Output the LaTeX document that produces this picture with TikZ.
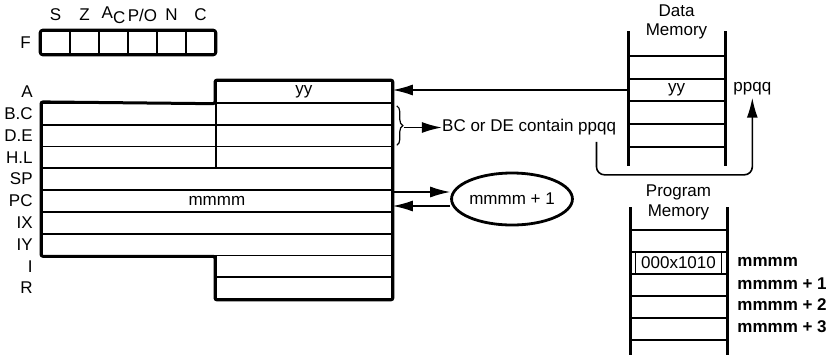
\documentclass[tikz,border=0pt]{standalone}
\usepackage{fontspec}
\setmainfont{Liberation Sans}
\usetikzlibrary{shapes.geometric, arrows.meta, positioning, decorations.pathreplacing}

\begin{document}
\begin{tikzpicture}[x=0.5pt, y=-0.5pt, >={Latex[length=10pt,width=5.5pt]},
    font=\fontsize{8.5}{10}\selectfont]
        % Define styles
        \tikzset{
            reg/.style={draw, line width=0.9pt, rectangle, minimum height=10.9pt, inner sep=0pt, anchor=west},
            half/.style={reg, minimum width=88pt},
            lefthalf/.style={reg, minimum width=87pt},
            full/.style={reg, minimum width=175pt},
            rname/.style={anchor=east, inner sep=0pt},
            cell/.style={draw, line width=0.9pt, minimum width=14.5pt, minimum height=11.5pt, inner sep=0pt},
            rail/.style={line width=1.5pt},
            slot/.style={line width=0.9pt},
            addr/.style={anchor=west, inner sep=0pt, font=\fontsize{8.5}{10}\selectfont\bfseries},
            wire/.style={line width=0.7pt}
        }
        \useasboundingbox (0,0) rectangle (834,359);

        % Flag register
        \foreach \n [count=\k] in {S, Z, {A\raisebox{-2.5pt}{C}}, P/O, N, C} {
            \node [cell] (f\k) at (26.5+29*\k, 42.5) {};
            \node (fn\k) at (26.5+29*\k, 15) {\n};
        }
        \draw [line width=1.5pt, rounded corners=1.5pt] (f1.north west) rectangle (f6.south east);
        \node [left=4.5pt of f1, inner sep=0pt] (fl) {F};

        % Register file
        \node [half] (a) at (215,91.9) {yy};
        \node [lefthalf] (b) at (41,113.7) {};
        \node [half] (c) at (215,113.7) {};
        \node [lefthalf] (d) at (41,135.5) {};
        \node [half] (e) at (215,135.5) {};
        \node [lefthalf] (h) at (41,157.3) {};
        \node [half] (l) at (215,157.3) {};
        \node [full] (sp) at (41,179.1) {};
        \node [full] (pc) at (41,200.9) {mmmm};
        \node [full] (ix) at (41,222.7) {};
        \node [full] (iy) at (41,244.5) {};
        \node [half] (i) at (215,266.3) {};
        \node [half] (r) at (215,288.1) {};
        \draw [line width=1.5pt, rounded corners=1pt] (b.north west) -- (a.south west) -- (a.north west)
            -- (a.north east) -- (r.south east) -- (r.south west) -- (iy.south -| i.west)
            -- (iy.south west) -- cycle;

        \node [rname] (la) at ([xshift=-4pt]b.west |- a) {A};
        \node [rname, left=4pt of b] (lbc) {B.C};
        \node [rname, left=4pt of d] (lde) {D.E};
        \node [rname, left=4pt of h] (lhl) {H.L};
        \node [rname, left=4pt of sp] (lsp) {SP};
        \node [rname, left=4pt of pc] (lpc) {PC};
        \node [rname, left=4pt of ix] (lix) {IX};
        \node [rname, left=4pt of iy] (liy) {IY};
        \node [rname] (li) at ([xshift=-4pt]b.west |- i) {I};
        \node [rname] (lr) at ([xshift=-4pt]b.west |- r) {R};

        % Brace and note
        \draw [decorate, decoration={brace, amplitude=3pt}, line width=0.6pt]
            ([xshift=2pt,yshift=-2pt]c.north east) -- ([xshift=2pt,yshift=1pt]e.south east);
        \coordinate (bt) at ([xshift=5.5pt,yshift=-1pt]c.south east);
        \node [right=19pt of bt, inner sep=0pt] (bcde) {BC or DE contain ppqq};
        \draw [->, wire] (bt) -- (bcde.west);

        % Incrementer
        \node [ellipse, draw, line width=1.4pt, minimum width=60pt, minimum height=26pt, inner sep=0pt]
            (inc) at (512,199) {mmmm + 1};
        \draw [->, wire] ([yshift=3.5pt]pc.east |- inc.west) -- ([yshift=3.5pt]inc.west);
        \draw [->, wire] ([yshift=-3.5pt]inc.west) -- ([yshift=-3.5pt]pc.east |- inc.west);

        % Data memory
        \node [align=center, inner sep=0pt] (dmt) at (676.5,22) {Data\\[-0.5pt]Memory};
        \draw [rail] (628,31) -- (628,166);
        \draw [rail] (725,31) -- (725,166);
        \foreach \y in {55.9, 78.6, 101.3, 124, 146.7}
            \draw [slot] (628,\y) -- (725,\y);
        \node (dyy) at (676.5,90) {yy};
        \node [anchor=west, inner sep=0pt] (pq) at (733,89) {ppqq};
        \draw [->, wire] (628,90) -- (628,90 -| a.east);
        \coordinate (loop) at ([xshift=-10pt,yshift=-3pt]bcde.south east);
        \draw [->, line width=0.8pt, rounded corners=4pt] (loop) -- ++(0,33) -| ([yshift=-1pt]pq.south);

        % Program memory
        \node [align=center, inner sep=0pt] (pmt) at (678.5,202) {Program\\[0pt]Memory};
        \draw [rail] (630,207) -- (630,355);
        \draw [rail] (727,207) -- (727,355);
        \foreach \y in {230, 252, 274, 296, 318, 340}
            \draw [slot] (630,\y) -- (727,\y);
        \node [draw, line width=0.5pt, minimum width=43pt, minimum height=11pt, inner sep=0pt]
            (op) at (678.5,263) {000x1010};
        \node [addr] (m0) at (737,262) {mmmm};
        \node [addr] (m1) at (737,283.5) {mmmm + 1};
        \node [addr] (m2) at (737,305) {mmmm + 2};
        \node [addr] (m3) at (737,326.5) {mmmm + 3};
\end{tikzpicture}
\end{document}
